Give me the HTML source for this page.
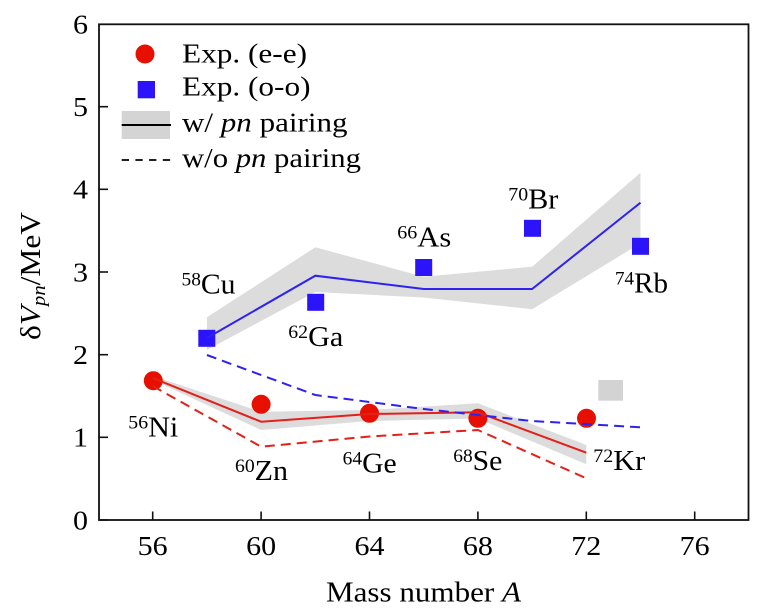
<!DOCTYPE html>
<html><head><meta charset="utf-8"><style>
html,body{margin:0;padding:0;background:#fff;}
svg{display:block;}
text{font-family:"Liberation Serif","Times New Roman",serif;fill:#000;}
</style></head><body>
<svg width="764" height="613" viewBox="0 0 764 613" xmlns="http://www.w3.org/2000/svg">
<rect width="764" height="613" fill="#fff"/>

<!-- bands -->
<polygon fill="#dcdcdc" points="206.9,317.3 315.3,247.3 423.7,276.7 532.1,266.7 640.5,172.7 640.5,243.3 532.1,309.3 423.7,297.5 315.3,292 206.9,350"/>
<polygon fill="#dcdcdc" points="152.7,376 261.1,411.7 369.5,410 477.9,403.3 586.3,445 586.3,464.3 477.9,418.5 369.5,421 261.1,430 152.7,380"/>
<rect x="598.3" y="380" width="24.7" height="20.7" fill="#d3d3d3"/>

<!-- markers -->
<g fill="#e60f00">
<circle cx="153.3" cy="380.7" r="9.5"/>
<circle cx="261.1" cy="404.3" r="9.5"/>
<circle cx="369.5" cy="413.3" r="9.5"/>
<circle cx="477.9" cy="418.3" r="9.5"/>
<circle cx="586.5" cy="418.3" r="9.5"/>
</g>
<g fill="#2b14fa">
<rect x="198.3" y="329.8" width="17" height="17"/>
<rect x="307.2" y="293.8" width="17" height="17"/>
<rect x="415.2" y="259" width="17" height="17"/>
<rect x="524" y="219.8" width="17" height="17"/>
<rect x="632" y="237.8" width="17" height="17"/>
</g>

<!-- lines -->
<polyline fill="none" stroke="#2e22f0" stroke-width="2" points="206.9,338 315.3,275.7 423.7,289 532.1,289 640.5,202.7"/>
<polyline fill="none" stroke="#e3201a" stroke-width="2" points="152.7,378 261.1,421.7 369.5,414 477.9,412.3 586.3,452.7"/>
<polyline fill="none" stroke="#e3201a" stroke-width="2" stroke-dasharray="10,6" points="152.7,386 261.1,446.7 369.5,436.5 477.9,430 586.3,478.3"/>
<polyline fill="none" stroke="#2e22f0" stroke-width="2" stroke-dasharray="10,6" points="206.9,355 315.3,395 423.7,409 532.1,421 640.5,427.3"/>

<!-- frame -->
<rect x="99" y="24.3" width="649.5" height="495.7" fill="none" stroke="#111" stroke-width="1.8"/>
<g stroke="#111" stroke-width="1.6">
<line x1="99" y1="520" x2="108" y2="520"/>
<line x1="99" y1="437.3" x2="108" y2="437.3"/>
<line x1="99" y1="354.7" x2="108" y2="354.7"/>
<line x1="99" y1="272" x2="108" y2="272"/>
<line x1="99" y1="189.3" x2="108" y2="189.3"/>
<line x1="99" y1="106.7" x2="108" y2="106.7"/>
<line x1="152.7" y1="520" x2="152.7" y2="511.5"/>
<line x1="261.1" y1="520" x2="261.1" y2="511.5"/>
<line x1="369.5" y1="520" x2="369.5" y2="511.5"/>
<line x1="477.9" y1="520" x2="477.9" y2="511.5"/>
<line x1="586.3" y1="520" x2="586.3" y2="511.5"/>
<line x1="694.7" y1="520" x2="694.7" y2="511.5"/>
</g>

<!-- y tick labels -->
<g font-size="27" text-anchor="end">
<text x="88" y="33.3" textLength="15" lengthAdjust="spacingAndGlyphs">6</text>
<text x="88" y="116" textLength="15" lengthAdjust="spacingAndGlyphs">5</text>
<text x="88" y="198.6" textLength="15" lengthAdjust="spacingAndGlyphs">4</text>
<text x="88" y="281.3" textLength="15" lengthAdjust="spacingAndGlyphs">3</text>
<text x="88" y="364" textLength="15" lengthAdjust="spacingAndGlyphs">2</text>
<text x="88" y="446.6" textLength="15" lengthAdjust="spacingAndGlyphs">1</text>
<text x="88" y="529.3" textLength="15" lengthAdjust="spacingAndGlyphs">0</text>
</g>
<!-- x tick labels -->
<g font-size="27" text-anchor="middle">
<text x="152.7" y="555" textLength="30" lengthAdjust="spacingAndGlyphs">56</text>
<text x="261.1" y="555" textLength="30" lengthAdjust="spacingAndGlyphs">60</text>
<text x="369.5" y="555" textLength="30" lengthAdjust="spacingAndGlyphs">64</text>
<text x="477.9" y="555" textLength="30" lengthAdjust="spacingAndGlyphs">68</text>
<text x="586.3" y="555" textLength="30" lengthAdjust="spacingAndGlyphs">72</text>
<text x="694.7" y="555" textLength="30" lengthAdjust="spacingAndGlyphs">76</text>
</g>

<!-- axis labels -->
<text x="326" y="601.7" font-size="29" textLength="195" lengthAdjust="spacingAndGlyphs">Mass number <tspan font-style="italic">A</tspan></text>
<text transform="translate(40,276) rotate(-90)" text-anchor="middle" font-size="29" textLength="128" lengthAdjust="spacingAndGlyphs">δ<tspan font-style="italic">V</tspan><tspan font-style="italic" font-size="19" dy="5">pn</tspan><tspan dy="-5">/MeV</tspan></text>

<!-- isotope labels -->
<g font-size="29">
<text x="181.5" y="293.3" textLength="54" lengthAdjust="spacingAndGlyphs"><tspan font-size="19" dy="-8">58</tspan><tspan dy="8">Cu</tspan></text>
<text x="288.3" y="346" textLength="55" lengthAdjust="spacingAndGlyphs"><tspan font-size="19" dy="-8">62</tspan><tspan dy="8">Ga</tspan></text>
<text x="397.3" y="246.7" textLength="54" lengthAdjust="spacingAndGlyphs"><tspan font-size="19" dy="-8">66</tspan><tspan dy="8">As</tspan></text>
<text x="508.3" y="208.3" textLength="50" lengthAdjust="spacingAndGlyphs"><tspan font-size="19" dy="-8">70</tspan><tspan dy="8">Br</tspan></text>
<text x="615" y="292.7" textLength="53" lengthAdjust="spacingAndGlyphs"><tspan font-size="19" dy="-8">74</tspan><tspan dy="8">Rb</tspan></text>
<text x="128.3" y="436.7" textLength="50" lengthAdjust="spacingAndGlyphs"><tspan font-size="19" dy="-8">56</tspan><tspan dy="8">Ni</tspan></text>
<text x="235" y="480" textLength="53" lengthAdjust="spacingAndGlyphs"><tspan font-size="19" dy="-8">60</tspan><tspan dy="8">Zn</tspan></text>
<text x="342.7" y="472.5" textLength="54" lengthAdjust="spacingAndGlyphs"><tspan font-size="19" dy="-8">64</tspan><tspan dy="8">Ge</tspan></text>
<text x="453.3" y="470" textLength="49" lengthAdjust="spacingAndGlyphs"><tspan font-size="19" dy="-8">68</tspan><tspan dy="8">Se</tspan></text>
<text x="593.3" y="470" textLength="52" lengthAdjust="spacingAndGlyphs"><tspan font-size="19" dy="-8">72</tspan><tspan dy="8">Kr</tspan></text>
</g>

<!-- legend -->
<circle cx="145" cy="54" r="9.5" fill="#e60f00"/>
<rect x="137.7" y="81" width="17.3" height="17.3" fill="#2b14fa"/>
<rect x="121.7" y="111" width="48.3" height="28" fill="#d4d4d4"/>
<line x1="121.7" y1="125" x2="171" y2="125" stroke="#000" stroke-width="2"/>
<line x1="121.7" y1="160" x2="171" y2="160" stroke="#000" stroke-width="1.8" stroke-dasharray="7.3,6.4"/>
<g font-size="27">
<text x="182" y="62.7" textLength="125" lengthAdjust="spacingAndGlyphs">Exp. (e-e)</text>
<text x="182" y="95.7" textLength="128.5" lengthAdjust="spacingAndGlyphs">Exp. (o-o)</text>
<text x="182" y="131.5" textLength="165.5" lengthAdjust="spacingAndGlyphs">w/ <tspan font-style="italic">pn</tspan> pairing</text>
<text x="182" y="167" textLength="179" lengthAdjust="spacingAndGlyphs">w/o <tspan font-style="italic">pn</tspan> pairing</text>
</g>
</svg>
</body></html>
